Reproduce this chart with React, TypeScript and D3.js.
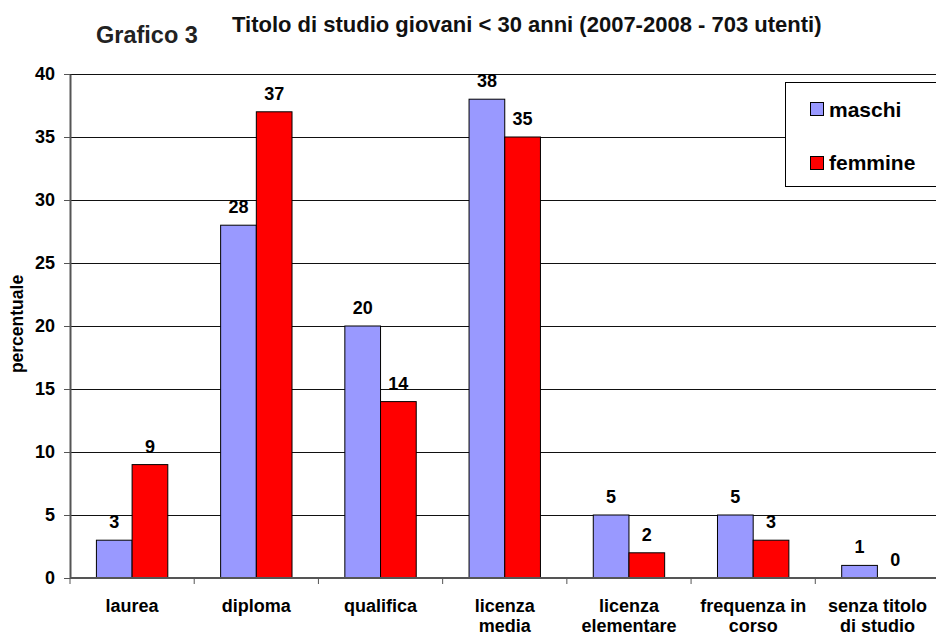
import React, { useEffect, useRef } from 'react';
import * as d3 from 'd3';

const categories = [
  ['laurea'],
  ['diploma'],
  ['qualifica'],
  ['licenza', 'media'],
  ['licenza', 'elementare'],
  ['frequenza in', 'corso'],
  ['senza titolo', 'di studio'],
];
const maschi = [3, 28, 20, 38, 5, 5, 1];
const femmine = [9, 37, 14, 35, 2, 3, 0];
const seriesNames = ['maschi', 'femmine'];
const seriesColors = ['#9999ff', '#ff0000'];
const yTicks = [0, 5, 10, 15, 20, 25, 30, 35, 40];

const App = () => {
  const ref = useRef<SVGSVGElement>(null);

  useEffect(() => {
    const svg = d3.select(ref.current);
    svg.selectAll('*').remove();
    const font = 'Liberation Sans, Arial, sans-serif';
    const left = 70, right = 939.5, top = 74, bottom = 578;

    const x = d3.scaleBand()
      .domain(categories.map((c, i) => String(i)))
      .range([left, right]);
    const y = d3.scaleLinear().domain([0, 40]).range([bottom, top]);
    const inner = d3.scaleBand()
      .domain(seriesNames)
      .range([0, x.bandwidth()])
      .paddingOuter(0.74)
      .paddingInner(0);

    // gridlines
    svg.append('g')
      .selectAll('line')
      .data(yTicks.filter(d => d > 0))
      .join('line')
      .attr('x1', left).attr('x2', right)
      .attr('y1', d => Math.round(y(d)) + 0.5).attr('y2', d => Math.round(y(d)) + 0.5)
      .attr('stroke', '#111').attr('stroke-width', 1);

    // y axis
    const ya = svg.append('g').attr('transform', `translate(${left},0)`)
      .call(d3.axisLeft(y).tickValues(yTicks).tickSize(6).tickSizeOuter(0));
    ya.select('.domain').attr('stroke', '#555').attr('stroke-width', 2);
    ya.selectAll('.tick line').attr('stroke', '#555');
    ya.selectAll('text').attr('font-family', font).attr('font-size', 18)
      .attr('font-weight', 'bold').attr('fill', '#000').attr('dx', -6);

    // bars
    const series = [maschi, femmine];
    series.forEach((vals, s) => {
      svg.append('g')
        .selectAll('rect')
        .data(vals)
        .join('rect')
        .attr('x', (d, i) => x(String(i))! + inner(seriesNames[s])!)
        .attr('y', d => y(d))
        .attr('width', inner.bandwidth())
        .attr('height', d => y(0) - y(d))
        .attr('fill', seriesColors[s])
        .attr('stroke', d => (d > 0 ? '#000' : 'none'))
        .attr('stroke-width', 1);
      svg.append('g')
        .selectAll('text')
        .data(vals)
        .join('text')
        .attr('x', (d, i) => x(String(i))! + inner(seriesNames[s])! + inner.bandwidth() / 2)
        .attr('y', d => y(d) - 12)
        .attr('text-anchor', 'middle')
        .attr('font-family', font).attr('font-size', 18).attr('font-weight', 'bold')
        .text(d => d);
    });

    // x axis
    const xa = svg.append('g').attr('transform', `translate(0,${bottom})`);
    xa.append('line').attr('x1', left).attr('x2', right).attr('stroke', '#555').attr('stroke-width', 2);
    xa.selectAll('line.t')
      .data(d3.range(categories.length + 1))
      .join('line')
      .attr('class', 't')
      .attr('x1', i => left + i * x.step()).attr('x2', i => left + i * x.step())
      .attr('y1', 0).attr('y2', 6)
      .attr('stroke', '#555');
    const labels = xa.selectAll('text')
      .data(categories)
      .join('text')
      .attr('text-anchor', 'middle')
      .attr('font-family', font).attr('font-size', 18).attr('font-weight', 'bold')
      .attr('transform', (d, i) => `translate(${x(String(i))! + x.bandwidth() / 2},34)`);
    labels.selectAll('tspan')
      .data(d => d)
      .join('tspan')
      .attr('x', 0)
      .attr('dy', (d, i) => (i === 0 ? 0 : 20))
      .text(d => d);

    // legend
    const lg = svg.append('g');
    lg.append('rect').attr('x', 785.5).attr('y', 82.5).attr('width', 155).attr('height', 104)
      .attr('fill', '#fff').attr('stroke', '#000');
    seriesNames.forEach((n, i) => {
      lg.append('rect').attr('x', 810.5).attr('y', 102.5 + i * 54).attr('width', 13).attr('height', 13)
        .attr('fill', seriesColors[i]).attr('stroke', '#000');
      lg.append('text').attr('x', 829).attr('y', 117 + i * 53)
        .attr('font-family', font).attr('font-size', 21).attr('font-weight', 'bold').text(n);
    });

    // titles
    svg.append('text').attr('x', 96).attr('y', 43)
      .attr('font-family', font).attr('font-size', 23.5).attr('font-weight', 'bold').attr('fill', '#222')
      .text('Grafico 3');
    svg.append('text').attr('x', 232).attr('y', 32)
      .attr('font-family', font).attr('font-size', 22).attr('font-weight', 'bold').attr('fill', '#111')
      .text('Titolo di studio giovani < 30 anni (2007-2008 - 703 utenti)');
    svg.append('text')
      .attr('transform', `translate(23,324) rotate(-90)`)
      .attr('text-anchor', 'middle')
      .attr('font-family', font).attr('font-size', 17.5).attr('font-weight', 'bold')
      .text('percentuale');
  }, []);

  return (
    <svg ref={ref} width={936} height={635}
      style={{ position: 'absolute', left: 0, top: 0, background: '#fff' }} />
  );
};

export default App;
